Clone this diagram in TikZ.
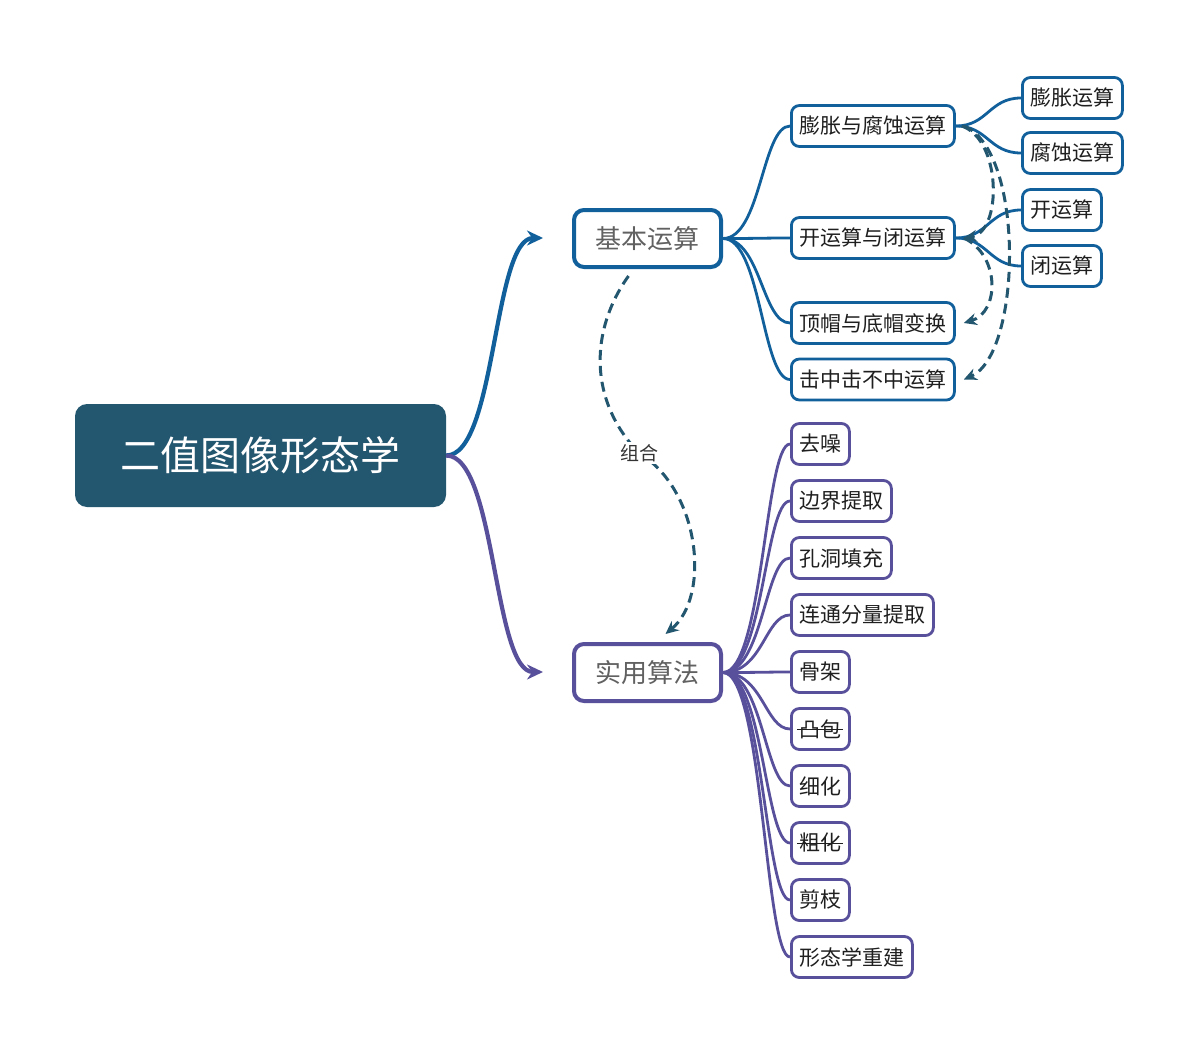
\documentclass[tikz,border=0pt]{standalone}
\usepackage{fontspec}
\setmainfont{Noto Sans CJK SC}
\usetikzlibrary{arrows.meta}
\definecolor{rootc}{HTML}{23566F}
\definecolor{bluec}{HTML}{11609C}
\definecolor{purc}{HTML}{58509B}
\definecolor{dashc}{HTML}{23566F}
\newcommand\strk[1]{\sbox0{#1}\rlap{\hspace{-2pt}\rule[0.33em]{\dimexpr\wd0+4pt\relax}{1.5pt}}#1}
\begin{document}
\begin{tikzpicture}[x=1pt,y=-1pt,
 rootbox/.style={fill=rootc, rounded corners=12pt, minimum width=371pt, minimum height=103pt, text=white, font=\fontsize{40}{44}\selectfont},
 mainbox/.style={draw, line width=4pt, fill=white, rounded corners=10pt, minimum width=147pt, minimum height=57pt, text=black!62, font=\fontsize{26}{30}\selectfont},
 subbox/.style={draw, line width=2.8pt, fill=white, rounded corners=8pt, minimum height=41pt, inner xsep=8pt, inner ysep=0pt, text=black!88, font=\fontsize{21}{24}\selectfont, anchor=west},
 bsub/.style={subbox, draw=bluec},
 psub/.style={subbox, draw=purc},
 mainline/.style={line width=4.2pt, -{Stealth[length=16pt,width=15pt]}},
 bline/.style={bluec, line width=2.8pt},
 pline/.style={purc, line width=2.8pt},
 dashline/.style={dashc, line width=3pt, dash pattern=on 10pt off 6pt, -{Stealth[length=13pt,width=12pt]}}
]
\useasboundingbox (0,0) rectangle (1197,1054);

% nodes
\node[rootbox] (root) at (260.5,455.5) {二值图像形态学};
\node[mainbox, draw=bluec] (jb) at (647.5,238.5) {基本运算};
\node[mainbox, draw=purc] (sy) at (647.5,672.5) {实用算法};

\node[bsub] (pz) at (790,126) {膨胀与腐蚀运算};
\node[bsub] (kb) at (790,238) {开运算与闭运算};
\node[bsub] (dm) at (790,323) {顶帽与底帽变换};
\node[bsub] (jz) at (790,379.5) {击中击不中运算};

\node[bsub] (pzy) at (1021,98) {膨胀运算};
\node[bsub] (fsy) at (1021,153) {腐蚀运算};
\node[bsub] (ky) at (1021,210) {开运算};
\node[bsub] (by) at (1021,266) {闭运算};

\node[psub] (p1) at (790,444) {去噪};
\node[psub] (p2) at (790,501) {边界提取};
\node[psub] (p3) at (790,558) {孔洞填充};
\node[psub] (p4) at (790,615) {连通分量提取};
\node[psub] (p5) at (790,672) {骨架};
\node[psub] (p6) at (790,729) {\strk{凸包}};
\node[psub] (p7) at (790,786) {细化};
\node[psub] (p8) at (790,843) {\strk{粗化}};
\node[psub] (p9) at (790,900) {剪枝};
\node[psub] (p10) at (790,957) {形态学重建};

% main connectors
\coordinate (ta) at (543,238);
\coordinate (tb) at (543,672);
\draw[mainline, bluec] (root.east) .. controls +(50,0) and +(-50,0) .. (ta);
\draw[mainline, purc] (root.east) .. controls +(50,0) and +(-50,0) .. (tb);

% blue branches
\foreach \n in {pz,kb,dm,jz}
  \draw[bline] (jb.east) .. controls +(38,0) and +(-28,0) .. (\n.west);
\foreach \n in {pzy,fsy}
  \draw[bline] (pz.east) .. controls +(32,0) and +(-32,0) .. (\n.west);
\foreach \n in {ky,by}
  \draw[bline] (kb.east) .. controls +(32,0) and +(-32,0) .. (\n.west);

% purple branches
\foreach \n in {p1,p2,p3,p4,p5,p6,p7,p8,p9,p10}
  \draw[pline] (sy.east) .. controls +(40,0) and +(-25,0) .. (\n.west);

% dashed relations
\draw[dashline] ([xshift=-19pt,yshift=-7pt]jb.south) .. controls (590,330) and (588,400) .. (639,453)
   .. controls (700,490) and (711,596) .. ([xshift=18pt,yshift=8pt]sy.north);
\node[fill=white, inner sep=2pt, text=black!80, font=\fontsize{19}{21}\selectfont] (lab) at (639,453) {组合};

\draw[dashline] ([xshift=6pt]pz.east) .. controls (1002,140) and (1002,232) .. ([xshift=8pt]kb.east);
\draw[dashline] ([xshift=8pt]pz.east) .. controls (1025,150) and (1022,354) .. ([xshift=8pt]jz.east);
\draw[dashline] ([xshift=8pt]kb.east) .. controls (1000,255) and (1000,312) .. ([xshift=8pt]dm.east);
\end{tikzpicture}
\end{document}
